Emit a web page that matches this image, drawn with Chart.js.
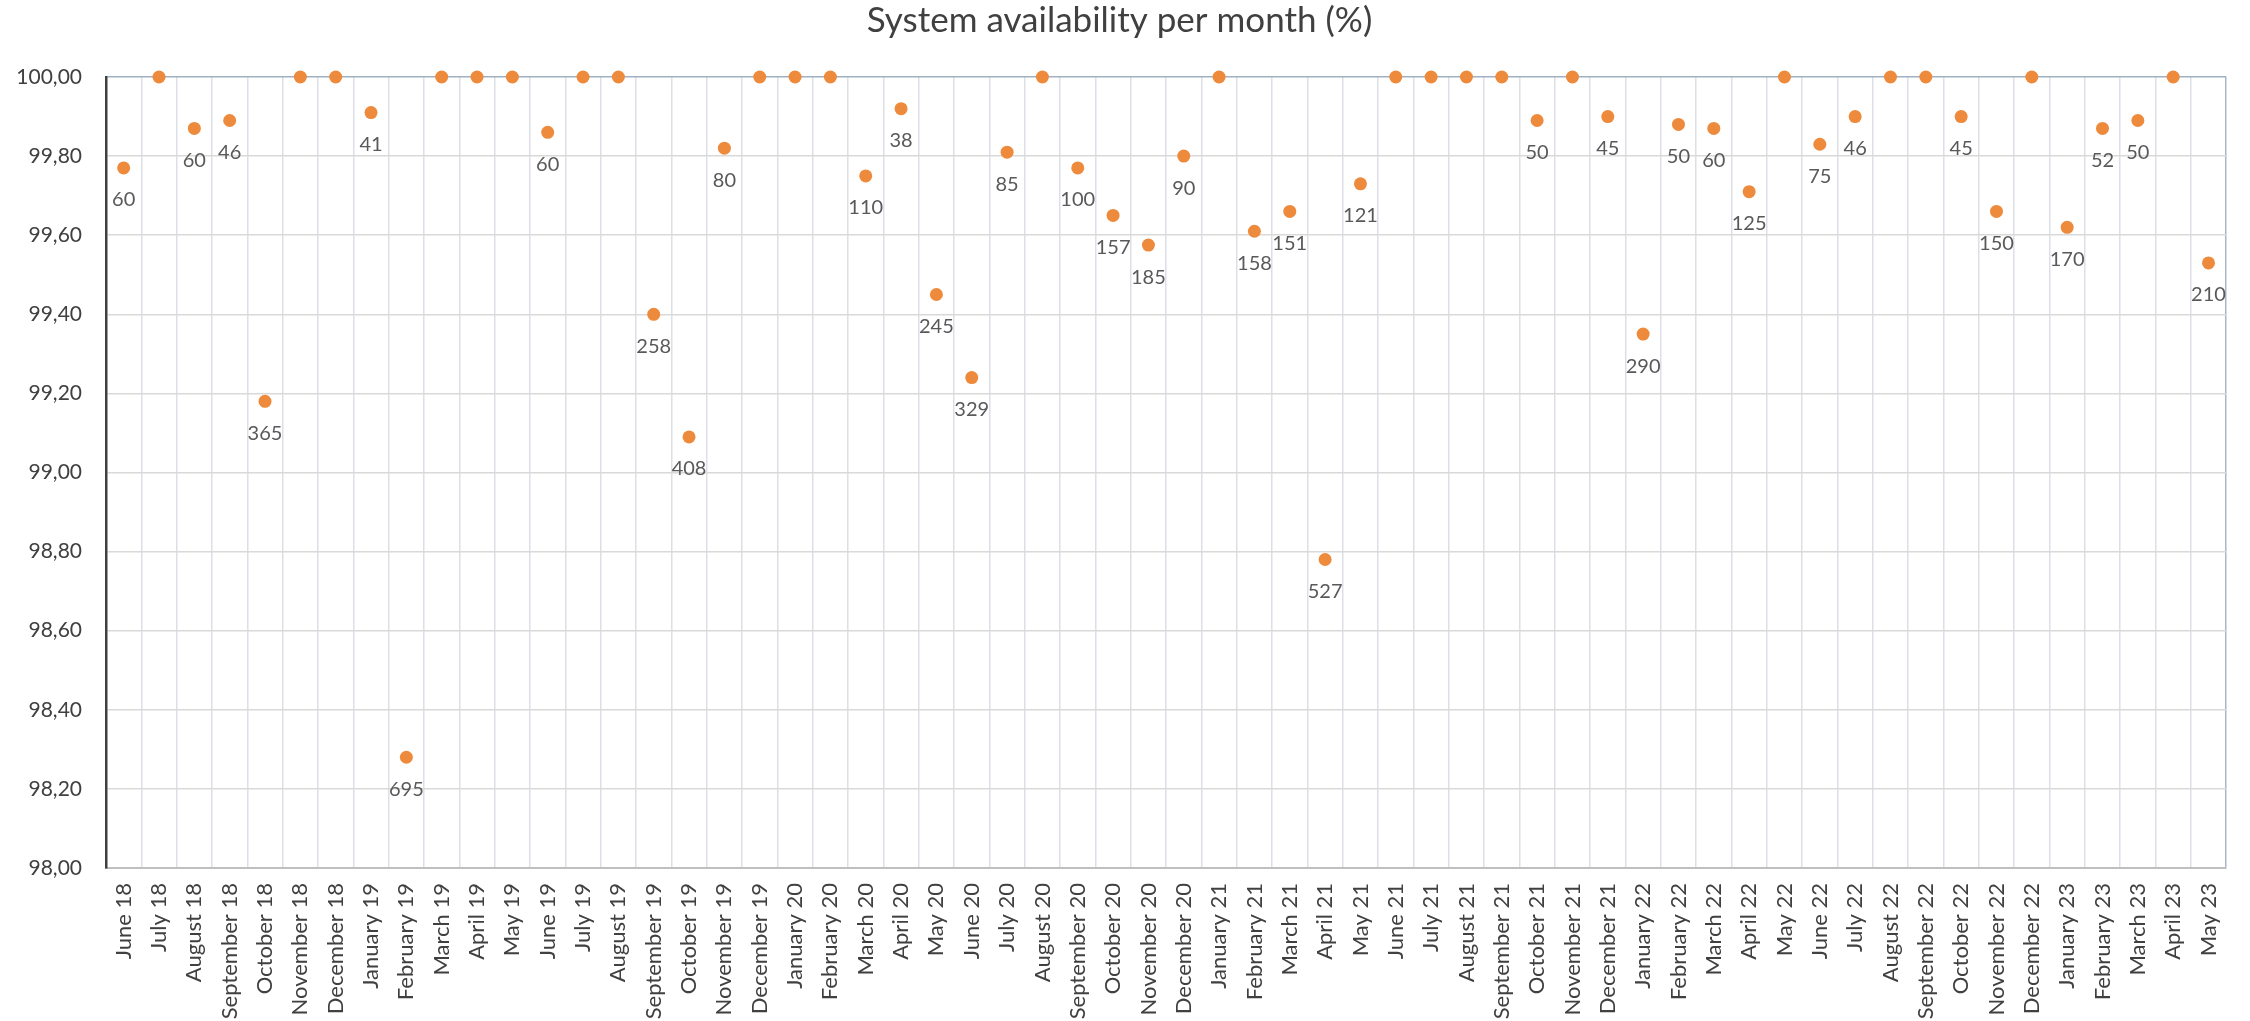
<!DOCTYPE html>
<html>
<head>
<meta charset="utf-8">
<script src="https://cdn.jsdelivr.net/npm/chart.js@4"></script>
<style>
  html,body{margin:0;padding:0;background:#fff;}
  #wrap{width:2250px;height:1021px;}
</style>
</head>
<body>
<div id="wrap"><canvas id="chart" width="2250" height="1021"></canvas></div>
<script>
// months June 18 .. May 23
const months=[
  "June 18","July 18","August 18","September 18","October 18","November 18","December 18",
  "January 19","February 19","March 19","April 19","May 19","June 19","July 19","August 19","September 19","October 19","November 19","December 19",
  "January 20","February 20","March 20","April 20","May 20","June 20","July 20","August 20","September 20","October 20","November 20","December 20",
  "January 21","February 21","March 21","April 21","May 21","June 21","July 21","August 21","September 21","October 21","November 21","December 21",
  "January 22","February 22","March 22","April 22","May 22","June 22","July 22","August 22","September 22","October 22","November 22","December 22",
  "January 23","February 23","March 23","April 23","May 23"
]

// availability in %
const availability=[
  99.77,100,99.87,99.89,99.18,100,100,
  99.91,98.28,100,100,100,99.86,100,100,99.40,99.09,99.82,100,
  100,100,99.75,99.92,99.45,99.24,99.81,100,99.77,99.65,99.575,99.80,
  100,99.61,99.66,98.78,99.73,100,100,100,100,99.89,100,99.90,
  99.35,99.88,99.87,99.71,100,99.83,99.90,100,100,99.90,99.66,100,
  99.62,99.87,99.89,100,99.53
]

// downtime minutes shown under the points (0 = no label)
const downtime=[
  60,0,60,46,365,0,0,
  41,695,0,0,0,60,0,0,258,408,80,0,
  0,0,110,38,245,329,85,0,100,157,185,90,
  0,158,151,527,121,0,0,0,0,50,0,45,
  290,50,60,125,0,75,46,0,0,45,150,0,
  170,52,50,0,210
]

const yTicks=[98,98.2,98.4,98.6,98.8,99,99.2,99.4,99.6,99.8,100]

const FONT="Lato"
const ORANGE="#ED8A3B"

const pointLabels={
  id:"pointLabels",
  afterDatasetsDraw(chart){
    const ctx=chart.ctx
    const meta=chart.getDatasetMeta(0)
    ctx.save()
    ctx.font="20px "+FONT
    ctx.fillStyle="#595959"
    ctx.textAlign="center"
    ctx.textBaseline="middle"
    meta.data.forEach((pt,i)=>{
      if(!downtime[i]) return
      ctx.fillText(String(downtime[i]),pt.x,pt.y+32)
    })
    ctx.restore()
  }
}

new Chart(document.getElementById("chart"),{
  type:"line",
  data:{
    labels:months,
    datasets:[{
      data:availability,
      showLine:false,
      pointRadius:6.5,
      pointHoverRadius:6.5,
      pointBackgroundColor:ORANGE,
      pointBorderWidth:0,
      clip:false
    }]
  },
  options:{
    responsive:false,
    animation:false,
    events:[],
    layout:{padding:{left:0,right:11,top:0,bottom:0}},
    plugins:{
      legend:{display:false},
      tooltip:{enabled:false},
      title:{
        display:true,
        text:"System availability per month (%)",
        color:"#404040",
        font:{family:FONT,size:35,weight:"normal"},
        padding:{top:0,bottom:35}
      }
    },
    scales:{
      x:{
        offset:true,
        grid:{
          offset:true,
          drawTicks:false,
          color:c=>c.tick ? "#DCE0E6" : "#A9B7C9",
          lineWidth:1.5
        },
        border:{color:"#BFBFBF",width:2},
        ticks:{
          autoSkip:false,
          maxRotation:90,
          minRotation:90,
          padding:15,
          color:"#404040",
          font:{family:FONT,size:22}
        },
        afterFit(s){ s.height=153 }
      },
      y:{
        min:98,
        max:100,
        afterBuildTicks(s){ s.ticks=yTicks.map(v=>({value:v})) },
        grid:{
          drawTicks:false,
          color:c=>c.tick && c.tick.value===100 ? "#9FB0C4" : "#D9D9D9",
          lineWidth:1.5
        },
        border:{color:"#404040",width:2.5},
        ticks:{
          padding:24,
          color:"#404040",
          font:{family:FONT,size:21},
          callback:v=>Number(v).toFixed(2).replace(".",",")
        },
        afterFit(s){ s.width=106 }
      }
    }
  },
  plugins:[pointLabels]
})
</script>
</body>
</html>
